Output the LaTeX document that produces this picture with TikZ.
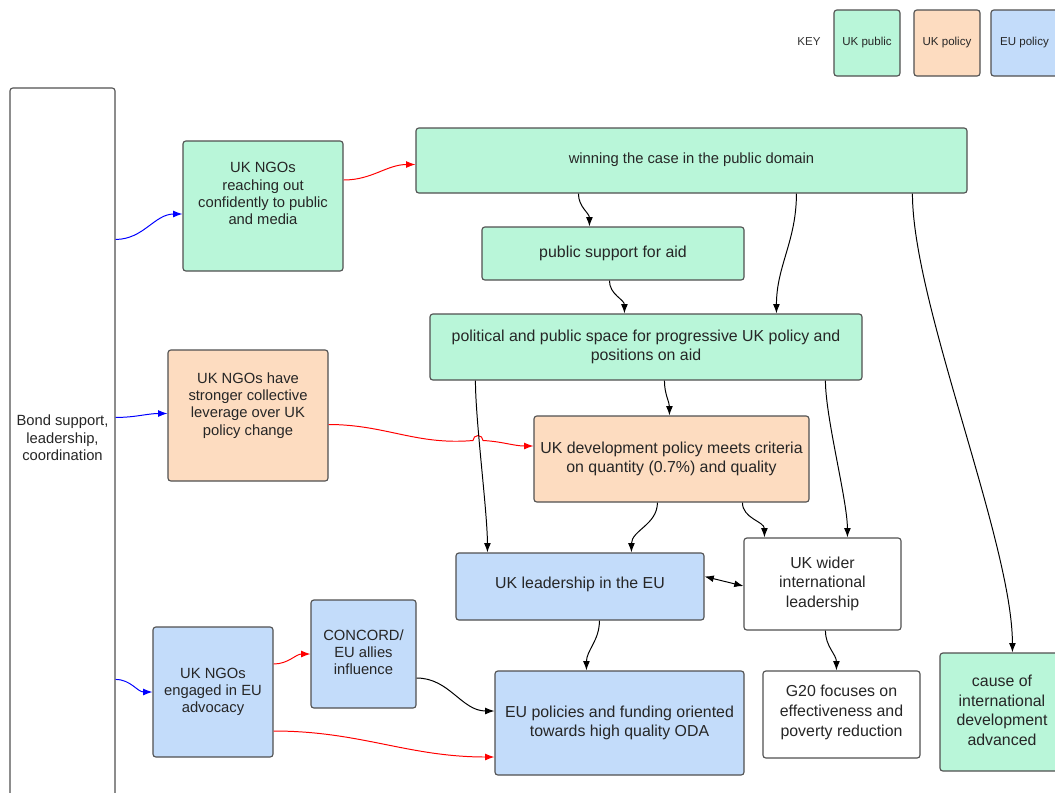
\documentclass[tikz,border=0pt]{standalone}
\usepackage{fontspec}
\setmainfont{Liberation Sans}
\usetikzlibrary{arrows.meta}
\usetikzlibrary{calc}

\definecolor{pubgreen}{HTML}{B9F6D9}
\definecolor{polorange}{HTML}{FDDCC0}
\definecolor{eublue}{HTML}{C3DCFA}
\definecolor{boxline}{HTML}{505050}

\newcommand{\boxlines}[1]{\begin{tabular}{@{}c@{}}#1\end{tabular}}

\tikzset{
  box/.style={draw=boxline, line width=0.8pt, rounded corners=2pt, inner sep=0pt,
    text=black!85, font=\fontsize{11.3}{14}\selectfont},
  boxsize/.style 2 args={minimum width=#1*0.025cm, minimum height=#2*0.025cm},
  smalltext/.style={font=\fontsize{10.5}{12.3}\selectfont},
  public/.style={box, fill=pubgreen},
  policy/.style={box, fill=polorange},
  eupol/.style={box, fill=eublue},
  keybox/.style={font=\fontsize{8.2}{10}\selectfont},
  link/.style={line width=0.7pt, -{Latex[length=2.3mm,width=1.7mm]}},
  bondlink/.style={link, blue},
  ngolink/.style={link, red},
}

\begin{document}
\begin{tikzpicture}[x=0.025cm, y=-0.025cm]
    \useasboundingbox (0,0) rectangle (1055,792);

    % key
    \node[keybox, text=black!80] (key) at (809,42) {KEY};
    \node[public, keybox, boxsize={66}{66}] (keypub) at (867,43) {\boxlines{UK public}};
    \node[policy, keybox, boxsize={66}{66}] (keypol) at (947,43) {\boxlines{UK policy}};
    \node[eupol, keybox, boxsize={67}{66}] (keyeu) at (1024.5,43) {\boxlines{EU policy}};

    \node[box, smalltext, fill=white, boxsize={105}{712}] (bond) at (62.5,444) {\boxlines{Bond support,\\leadership,\\coordination\\[6pt]}};

    \node[public, smalltext, boxsize={160}{130}] (reach) at (263,206) {\boxlines{UK NGOs\\reaching out\\confidently to public\\and media\\[15pt]}};
    \node[policy, smalltext, boxsize={160}{131}] (lev) at (248,415.5) {\boxlines{UK NGOs have\\stronger collective\\leverage over UK\\policy change\\[14pt]}};
    \node[eupol, smalltext, boxsize={120}{130}] (ngoeu) at (213,692) {\boxlines{UK NGOs\\engaged in EU\\advocacy}};
    \node[eupol, smalltext, boxsize={105}{108}] (concord) at (363.5,654) {\boxlines{CONCORD/\\EU allies\\influence}};

    \node[public, smalltext, boxsize={551}{65}] (win) at (691.5,160.5) {\boxlines{winning the case in the public domain}};
    \node[public, boxsize={262}{53}] (support) at (613,253.5) {\boxlines{public support for aid}};
    \node[public, boxsize={432}{66}] (space) at (646,347) {\boxlines{political and public space for progressive UK policy and\\positions on aid}};
    \node[policy, boxsize={275}{86}] (devpol) at (671.5,459) {\boxlines{UK development policy meets criteria\\on quantity (0.7\%) and quality}};
    \node[eupol, boxsize={248}{67}] (ukeu) at (580,586.5) {\boxlines{UK leadership in the EU\\[3pt]}};
    \node[box, fill=white, boxsize={157}{92}] (wider) at (822.5,584) {\boxlines{UK wider\\international\\leadership}};
    \node[eupol, boxsize={249}{104}] (eupolicy) at (619.5,723) {\boxlines{EU policies and funding oriented\\towards high quality ODA}};
    \node[box, fill=white, boxsize={157}{87}] (g20) at (841.5,714.5) {\boxlines{G20 focuses on\\effectiveness and\\poverty reduction\\[3pt]}};
    \node[public, boxsize={124}{118}] (cause) at (1002,712) {\boxlines{cause of\\international\\development\\advanced}};

    % Bond to the NGOs
    \draw[bondlink] (bond.north east) ++(0,152) to[out=0, in=180] ($(reach.west)+(0,8)$);
    \draw[bondlink] (bond.north east) ++(0,330) to[out=0, in=180] ($(lev.west)+(0,-2)$);
    \draw[bondlink] (bond.north east) ++(0,592) to[out=0, in=180] (ngoeu.west);

    % NGO influence
    \draw[ngolink] ($(reach.east)+(0,-26)$) to[out=0, in=180] ($(win.west)+(0,4)$);
    \draw[ngolink] ($(lev.east)+(0,9)$) to[out=0, in=185] (473,440.5)
      arc[start angle=180, end angle=360, radius=5] to[out=-3, in=180] ($(devpol.west)+(0,-13)$);
    \draw[ngolink] ($(ngoeu.east)+(0,-28)$) to[out=0, in=180] (concord.west);
    \draw[ngolink] ($(ngoeu.east)+(0,39)$) to[out=0, in=180] ($(eupolicy.west)+(0,34)$);

    % chain
    \draw[link] ($(concord.east)+(0,24)$) to[out=0, in=180] ($(eupolicy.west)+(0,-12)$);
    \draw[link] ($(win.south west)+(163,0)$) to[out=-90, in=90] ($(support.north west)+(108,0)$);
    \draw[link] ($(win.south west)+(381,0)$) to[out=-90, in=90] ($(space.north west)+(347,0)$);
    \draw[link] ($(win.south west)+(497,0)$) to[out=-90, in=90, looseness=0.6] ($(cause.north west)+(73,0)$);
    \draw[link] ($(support.south west)+(128,0)$) to[out=-90, in=90] ($(space.north west)+(195,0)$);
    \draw[link] ($(space.south west)+(235,0)$) to[out=-90, in=90] ($(devpol.north west)+(136,0)$);
    \draw[link] ($(space.south west)+(46,0)$) to[out=-90, in=90, looseness=0.6] ($(ukeu.north west)+(32,0)$);
    \draw[link] ($(space.south west)+(396,0)$) to[out=-90, in=90, looseness=0.6] ($(wider.north west)+(104,0)$);
    \draw[link] ($(devpol.south west)+(124,0)$) to[out=-90, in=90] ($(ukeu.north west)+(176,0)$);
    \draw[link] ($(devpol.south west)+(209,0)$) to[out=-90, in=90] ($(wider.north west)+(21,0)$);
    \draw[link, {Latex[length=2.3mm,width=1.7mm]}-{Latex[length=2.3mm,width=1.7mm]}] ($(ukeu.east)+(0,-10)$) -- ($(wider.west)+(0,2)$);
    \draw[link] ($(ukeu.south west)+(144,0)$) to[out=-90, in=90] ($(eupolicy.north west)+(92,0)$);
    \draw[link] ($(wider.south west)+(82,0)$) to[out=-90, in=90] ($(g20.north west)+(74,0)$);
\end{tikzpicture}
\end{document}
